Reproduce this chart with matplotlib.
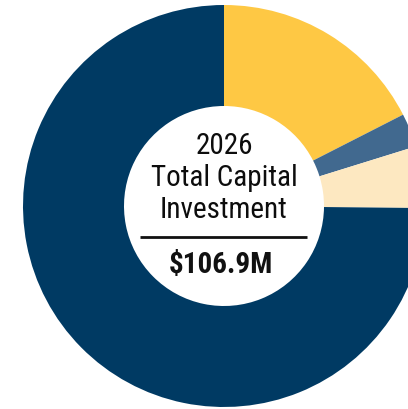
import matplotlib
matplotlib.use("Agg")
import matplotlib.pyplot as plt

# 2026 capital investment by category ($M)
categories = ["Category A", "Category B", "Category C", "Category D"]
values = [18.7, 2.9, 5.3, 80.0]
colors = ["#FEC844", "#41698F", "#FDE8C1", "#003A63"]

title_lines = ["2026", "Total Capital", "Investment"]
total_label = "$106.9M"

W, H = 408, 409
fig = plt.figure(figsize=(W / 100, H / 100), dpi=100)
ax = fig.add_axes([0, 0, 1, 1])

cx, cy = 224, H - 206
R, r = 201, 100

ax.pie(values, colors=colors, startangle=90, counterclock=False,
       center=(cx, cy), radius=R,
       wedgeprops=dict(width=R - r, linewidth=0))

ax.set_xlim(0, W)
ax.set_ylim(0, H)
ax.set_aspect("equal")
ax.axis("off")

fam = ["Roboto Condensed", "DejaVu Sans"]
ys = [143, 175, 207]
for t, y in zip(title_lines, ys):
    ax.text(cx, H - y, t, ha="center", va="center_baseline", fontsize=21,
            family=fam, fontweight="normal", color="#0d0d0d")

ax.plot([140, 307], [H - 237, H - 237], color="#111111", lw=2,
        solid_capstyle="butt")
ax.text(cx - 3, H - 262, total_label, ha="center", va="center_baseline",
        fontsize=21, family=fam, fontweight="bold", color="#111111")

fig.savefig("out.png", dpi=100, facecolor="white")
